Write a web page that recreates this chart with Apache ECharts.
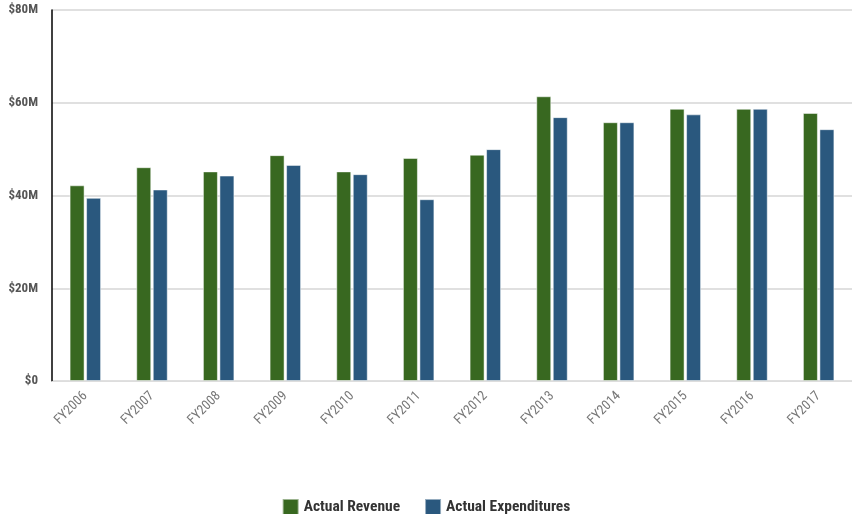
<!DOCTYPE html>
<html><head><meta charset="utf-8">
<script src="https://cdn.jsdelivr.net/npm/echarts@6/dist/echarts.min.js"></script>
<style>html,body{margin:0;padding:0;background:#fff}#c{width:852px;height:514px}</style>
</head><body><div id="c"></div>
<script>
const categories = ['FY2006','FY2007','FY2008','FY2009','FY2010','FY2011','FY2012','FY2013','FY2014','FY2015','FY2016','FY2017'];
const revenue = [42.2, 46.1, 45.2, 48.7, 45.2, 48.1, 48.8, 61.4, 55.8, 58.7, 58.7, 57.8];
const expenditures = [39.5, 41.3, 44.3, 46.6, 44.6, 39.2, 50.0, 56.9, 55.8, 57.5, 58.7, 54.3];
const yTicks = [0, 20, 40, 60, 80];
const FONT = '"Roboto Condensed", "Liberation Sans Narrow", "Roboto", sans-serif';
const chart = echarts.init(document.getElementById('c'));
chart.setOption({
  animation: false,
  grid: {left: 52, right: 0, top: 10, bottom: 133, containLabel: false},
  legend: {
    top: 493, left: 'center', itemWidth: 16, itemHeight: 16, itemGap: 24,
    icon: 'rect',
    textStyle: {fontFamily: FONT, fontSize: 15.5, color: '#333', fontWeight: 'bold'},
    data: ['Actual Revenue', 'Actual Expenditures']
  },
  xAxis: {
    type: 'category', data: categories,
    axisLine: {lineStyle: {color: '#ddd'}},
    axisTick: {show: false},
    axisLabel: {rotate: 45, color: '#777', fontFamily: FONT, fontSize: 13.5, margin: 13, interval: 0}
  },
  yAxis: {
    type: 'value', min: 0, max: 80, interval: 20,
    axisLine: {show: true, lineStyle: {color: '#000', width: 1.5}},
    axisTick: {show: false},
    splitLine: {lineStyle: {color: '#e0e0e0', width: 2}},
    axisLabel: {
      color: '#555', fontFamily: FONT, fontSize: 13, fontWeight: 'bold', margin: 14,
      formatter: v => yTicks.includes(v) ? (v === 0 ? '$0' : '$' + v + 'M') : ''
    }
  },
  series: [
    {name: 'Actual Revenue', type: 'bar', data: revenue, barWidth: 15, barGap: '10%',
     itemStyle: {color: '#386820', borderColor: 'rgba(255,255,255,0.5)', borderWidth: 1}},
    {name: 'Actual Expenditures', type: 'bar', data: expenditures, barWidth: 15,
     itemStyle: {color: '#2a587e', borderColor: 'rgba(255,255,255,0.5)', borderWidth: 1}}
  ]
});
</script></body></html>
